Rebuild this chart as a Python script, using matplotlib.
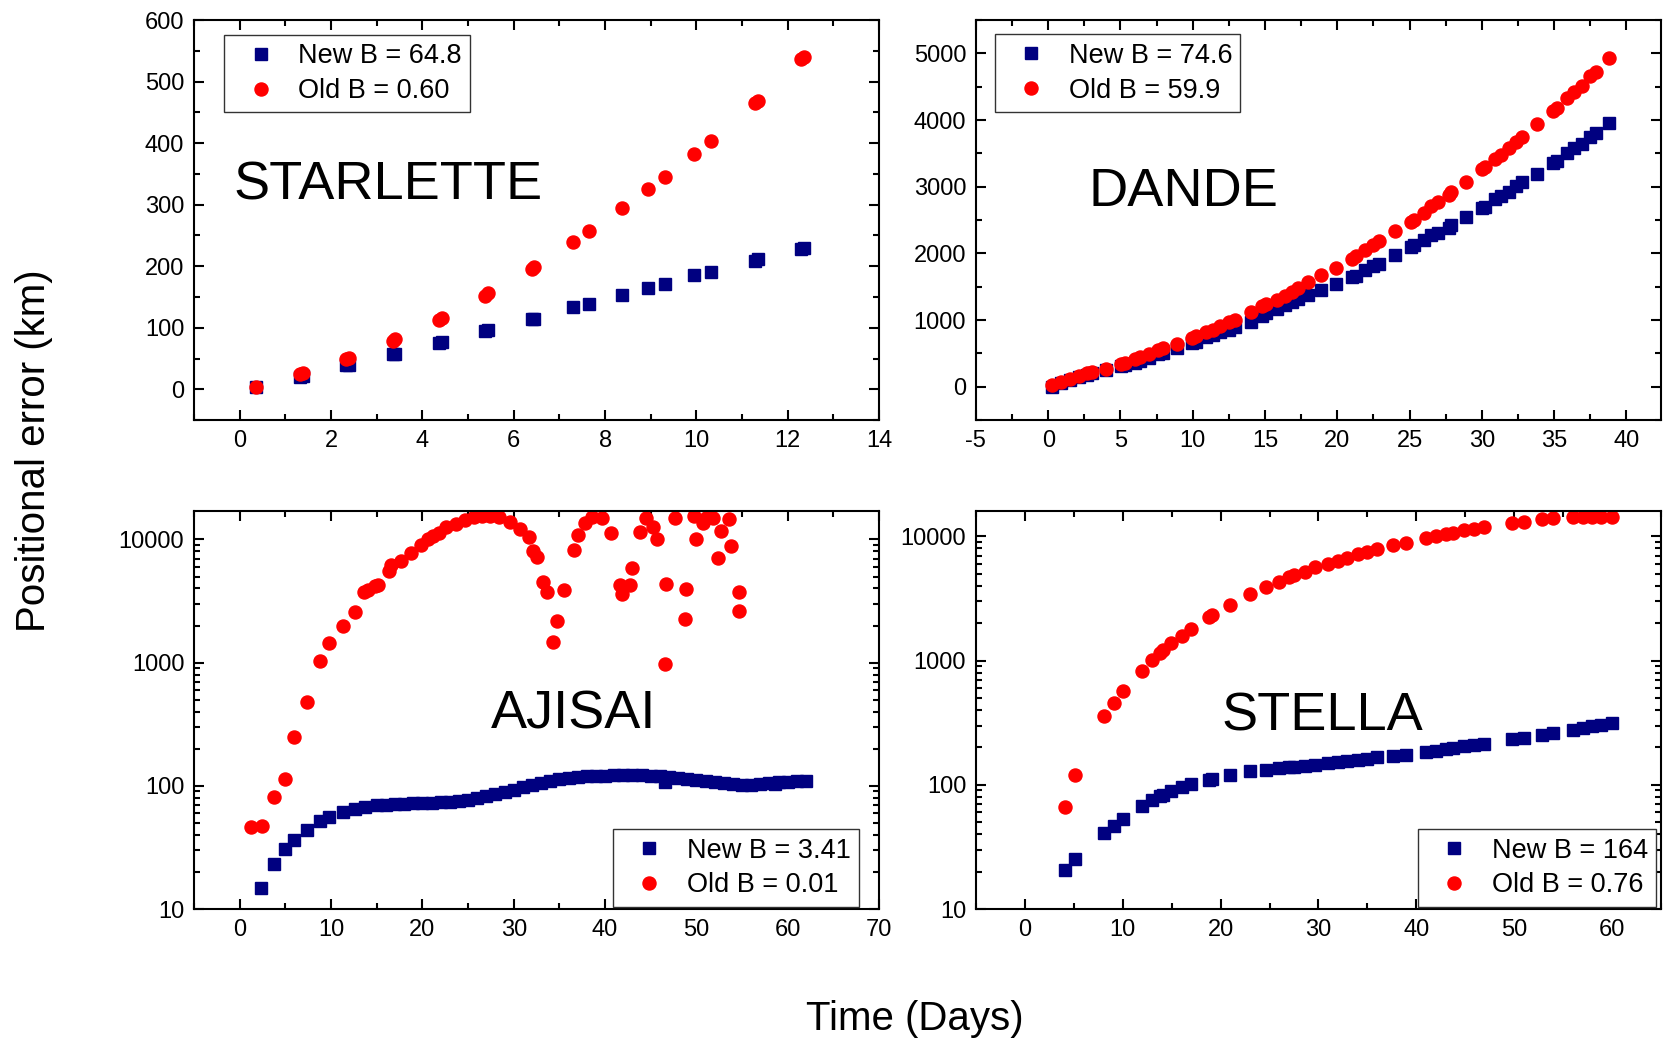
import matplotlib
matplotlib.use('Agg')
import matplotlib.pyplot as plt
from matplotlib.ticker import MultipleLocator, LogLocator, NullFormatter, FuncFormatter

plt.rcParams['font.family'] = ['Liberation Sans', 'DejaVu Sans']
plt.rcParams['axes.unicode_minus'] = False

NAVY = '#000080'
RED = '#ff0000'

# STARLETTE
star_day = [0.36, 1.32, 1.38, 2.33, 2.39, 3.36, 3.41, 4.36, 4.42, 5.37, 5.43, 6.39, 6.45,
            7.29, 7.64, 8.37, 8.95, 9.31, 9.95, 10.31, 11.29, 11.35, 12.30, 12.36]
star_new = [4.4, 20, 21, 39, 40, 57, 58, 76, 77, 95, 96, 114, 115,
            133, 139, 154, 165, 171, 185, 191, 209, 211, 228, 229]
star_old = [4.4, 25, 27, 49, 51, 79, 81, 112, 116, 152, 156, 195, 199,
            239, 257, 294, 325, 345, 382, 404, 465, 469, 536, 540]

# DANDE
dande_day = [0.23, 0.92, 1.54, 2.12, 2.70, 3.04, 4.03, 5.05, 5.3, 5.99, 6.34, 7.0, 7.6,
             7.93, 8.92, 9.95, 10.2, 10.9, 11.4, 11.9, 12.5, 12.9, 14.0, 14.8, 15.1, 15.8,
             16.4, 16.9, 17.3, 18.0, 18.85, 19.9, 21.0, 21.3, 21.9, 22.5, 22.9, 24.0, 25.1,
             25.3, 26.0, 26.5, 27.0, 27.7, 27.9, 28.9, 30.0, 30.2, 30.9, 31.3, 31.9, 32.4,
             32.8, 33.8, 34.9, 35.2, 35.9, 36.4, 36.9, 37.5, 37.9, 38.8]
dande_new = [0, 60, 100, 141, 171, 201, 251, 312, 327, 362, 387, 437, 487,
             513, 578, 653, 673, 739, 774, 814, 854, 889, 975, 1065, 1105, 1166,
             1226, 1266, 1317, 1377, 1447, 1543, 1643, 1660, 1744, 1809, 1844, 1980, 2095,
             2120, 2196, 2271, 2312, 2382, 2422, 2543, 2683, 2703, 2814, 2860, 2925, 3015,
             3065, 3186, 3362, 3392, 3512, 3578, 3638, 3739, 3804, 3950]
dande_old = [20, 70, 111, 161, 201, 226, 271, 347, 362, 412, 452, 497, 548,
             578, 648, 729, 754, 814, 854, 905, 965, 1005, 1116, 1206, 1241, 1307,
             1367, 1427, 1477, 1568, 1673, 1784, 1920, 1960, 2045, 2131, 2181, 2332, 2472,
             2508, 2613, 2708, 2764, 2874, 2925, 3075, 3266, 3291, 3417, 3477, 3578, 3678,
             3739, 3940, 4131, 4181, 4332, 4422, 4512, 4658, 4724, 4935]

# AJISAI
aji_new_day = [2.37, 3.72, 4.93, 5.99, 7.37, 8.76, 9.74, 11.28, 12.6, 13.76, 15.0,
               16, 17, 18, 19, 20, 21, 22, 23, 24, 25, 26, 27, 28, 29, 30, 31, 32, 33,
               34, 35, 36, 37, 38, 39, 40, 41, 42, 43, 44, 45, 46, 46.6, 47, 48, 49, 50,
               51, 52, 53, 54, 55, 56, 57, 58, 58.6, 59, 60, 61, 62]
aji_new = [14.9, 23.1, 30.5, 36.4, 43.9, 51.9, 56.2, 61.8, 64.9, 67.8, 70,
           70.5, 71, 71.5, 72, 72.5, 73, 73.5, 74, 75.5, 77, 79.5, 82.5, 86, 89.5, 93, 97, 101, 105,
           109, 113, 115.5, 117.5, 119, 120.5, 121, 122, 123, 123, 122.5, 121, 119, 108, 117, 115, 113, 111,
           109, 107, 105, 103.5, 102, 101, 103, 105, 103, 107, 108, 109, 110]
aji_old_day = [1.28, 2.45, 3.72, 4.96, 5.99, 7.37, 8.83, 9.74, 11.28, 12.63, 13.65, 14.1,
               14.85, 15.1, 16.4, 16.6, 17.7, 18.7, 19.8, 20.6, 21.2, 21.8, 22.6, 23.7, 24.7,
               25.6, 26.5, 27.4, 28.4, 29.6, 30.7, 31.7, 32.1, 32.6, 33.2, 33.6, 34.3, 34.75,
               35.55, 36.6, 37.05, 37.85, 38.6, 39.7, 40.6, 41.6, 41.8, 42.7, 43.0, 43.8, 44.5,
               45.3, 45.7, 46.6, 46.7, 47.7, 48.7, 48.9, 49.7, 50.0, 50.7, 51.0, 51.8, 52.4,
               52.7, 53.6, 53.8, 54.7, 54.7]
aji_old = [46, 47, 81, 114, 248, 478, 1040, 1438, 1991, 2553, 3736, 3900,
           4150, 4280, 5495, 6222, 6710, 7745, 9060, 10070, 10590, 11270, 12530, 13340, 14460,
           15100, 15590, 15590, 15100, 13840, 12140, 10450, 8000, 7150, 4506, 3736, 1459, 2188,
           3855, 8240, 10920, 13580, 15100, 14920, 11270, 4286, 3600, 4240, 5850, 11490, 14920,
           12530, 10140, 973, 4335, 14920, 2256, 3980, 15590, 10140, 13580, 14920, 14920, 7060,
           11620, 14730, 8900, 3716, 2636]

# STELLA
stella_day = [4.08, 5.1, 8.06, 9.08, 10.03, 11.97, 12.99, 13.78, 14.1, 14.97, 16.05, 17.0,
              18.78, 19.1, 21.0, 23.0, 24.6, 26.0, 27.0, 27.55, 28.6, 29.6, 30.96, 32.0, 32.9,
              34.0, 35.0, 36.0, 37.6, 38.95, 41.0, 42.0, 43.0, 43.7, 44.9, 45.9, 46.9, 49.8,
              51.0, 52.8, 54.0, 55.96, 56.98, 58.0, 58.9, 60.0]
stella_new = [20.7, 25.3, 40.7, 47, 53.2, 68.1, 75.7, 81, 83, 89.5, 95.8, 101.2,
              110, 111.5, 120.5, 128, 132, 136.3, 138, 139.5, 140.6, 145, 148.5, 151.4, 155.2,
              159, 162, 166, 169, 172.4, 183.5, 188, 194, 197.7, 203.9, 210, 214, 235,
              238, 253, 261, 278, 287, 295, 305, 314]
stella_old = [66, 120, 356, 456, 566, 830, 1006, 1153, 1211, 1387, 1591, 1812,
              2236, 2322, 2793, 3405, 3902, 4306, 4697, 4875, 5188, 5660, 5943, 6320, 6720,
              7160, 7480, 7960, 8460, 8890, 9750, 10060, 10370, 10710, 11180, 11380, 11890, 12730,
              13130, 13710, 13970, 14320, 14420, 14420, 14420, 14420]

fig = plt.figure(figsize=(16.64, 10.41), dpi=100)
ax_tl = fig.add_axes([0.1166, 0.5965, 0.4117, 0.3842])
ax_tr = fig.add_axes([0.5865, 0.5965, 0.4117, 0.3842])
ax_bl = fig.add_axes([0.1166, 0.1268, 0.4117, 0.3823])
ax_br = fig.add_axes([0.5865, 0.1268, 0.4117, 0.3823])


def draw(ax, xn, yn, xo, yo, new_b, old_b):
    ax.plot(xn, yn, 's', color=NAVY, ms=8.3, mec=NAVY, mew=1, label=f'New B = {new_b}')
    ax.plot(xo, yo, 'o', color=RED, ms=9.4, mec=RED, mew=1, label=f'Old B = {old_b}')
    for s in ax.spines.values():
        s.set_linewidth(1.5)
    ax.tick_params(which='both', direction='in', top=True, right=True, width=1.5,
                   labelsize=17, pad=7)
    ax.tick_params(which='major', length=7)
    ax.tick_params(which='minor', length=4.5)


def legend(ax, loc, anchor):
    leg = ax.legend(loc=loc, bbox_to_anchor=anchor, borderaxespad=0, fontsize=19.5,
                    fancybox=False, edgecolor='#333333', framealpha=1, borderpad=0.3,
                    labelspacing=0.33, handlelength=2.1, handletextpad=0.33, numpoints=1)
    leg.get_frame().set_linewidth(1.0)


def log_axis(ax, top):
    ax.set_yscale('log')
    ax.set_ylim(10, top)
    ax.yaxis.set_major_locator(LogLocator(base=10))
    ax.yaxis.set_minor_locator(LogLocator(base=10, subs=range(2, 10)))
    ax.yaxis.set_major_formatter(FuncFormatter(lambda v, p: f'{v:g}'))
    ax.yaxis.set_minor_formatter(NullFormatter())


# STARLETTE panel
draw(ax_tl, star_day, star_new, star_day, star_old, '64.8', '0.60')
ax_tl.set_xlim(-1, 14)
ax_tl.set_ylim(-50, 600)
ax_tl.xaxis.set_major_locator(MultipleLocator(2))
ax_tl.xaxis.set_minor_locator(MultipleLocator(1))
ax_tl.yaxis.set_major_locator(MultipleLocator(100))
ax_tl.yaxis.set_minor_locator(MultipleLocator(50))
legend(ax_tl, 'upper left', (0.0438, 0.9625))
ax_tl.text(0.058, 0.552, 'STARLETTE', transform=ax_tl.transAxes, fontsize=39, va='baseline')

# DANDE panel
draw(ax_tr, dande_day, dande_new, dande_day, dande_old, '74.6', '59.9')
ax_tr.set_xlim(-5, 42.4)
ax_tr.set_ylim(-500, 5500)
ax_tr.xaxis.set_major_locator(MultipleLocator(5))
ax_tr.xaxis.set_minor_locator(MultipleLocator(2.5))
ax_tr.yaxis.set_major_locator(MultipleLocator(1000))
ax_tr.yaxis.set_minor_locator(MultipleLocator(500))
legend(ax_tr, 'upper left', (0.0273, 0.964))
ax_tr.text(0.165, 0.536, 'DANDE', transform=ax_tr.transAxes, fontsize=39, va='baseline')

# AJISAI panel
draw(ax_bl, aji_new_day, aji_new, aji_old_day, aji_old, '3.41', '0.01')
ax_bl.set_xlim(-5, 70)
ax_bl.xaxis.set_major_locator(MultipleLocator(10))
ax_bl.xaxis.set_minor_locator(MultipleLocator(5))
log_axis(ax_bl, 17000)
legend(ax_bl, 'lower right', (0.970, 0.006))
ax_bl.text(0.433, 0.454, 'AJISAI', transform=ax_bl.transAxes, fontsize=39, va='baseline')

# STELLA panel
draw(ax_br, stella_day, stella_new, stella_day, stella_old, '164', '0.76')
ax_br.set_xlim(-5, 65)
ax_br.xaxis.set_major_locator(MultipleLocator(10))
ax_br.xaxis.set_minor_locator(MultipleLocator(5))
log_axis(ax_br, 16000)
legend(ax_br, 'lower right', (0.9927, 0.006))
ax_br.text(0.358, 0.448, 'STELLA', transform=ax_br.transAxes, fontsize=39, va='baseline')

fig.text(0.0204, 0.5668, 'Positional error (km)', rotation=90, fontsize=29,
         ha='center', va='center')
fig.text(0.55, 0.011, 'Time (Days)', fontsize=29, ha='center', va='baseline')

fig.savefig('out.png', dpi=100)
